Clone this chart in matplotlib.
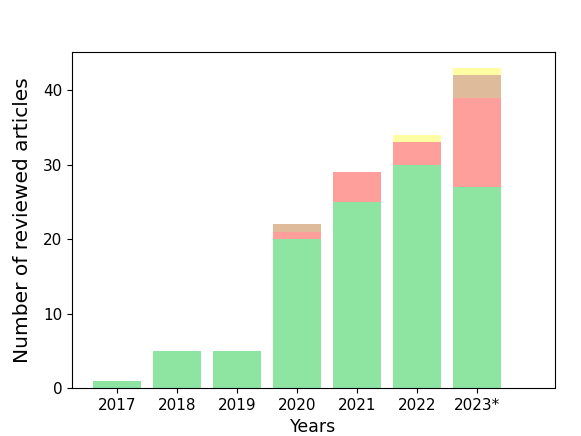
import matplotlib.pyplot as plt
import numpy as np

years = ["2017", "2018", "2019", "2020", "2021", "2022", "2023*"]
green = [1, 5, 5, 20, 25, 30, 27]
red = [0, 0, 0, 1, 4, 3, 12]
tan = [0, 0, 0, 1, 0, 0, 3]
yellow = [0, 0, 0, 0, 0, 1, 1]

colors = ["#8de5a1", "#ff9f9b", "#debb9b", "#fffea3"]

fig, ax = plt.subplots(figsize=(5.81, 4.36), dpi=100)
fig.subplots_adjust(left=0.124, right=0.955, top=0.881, bottom=0.110)

bottom = np.zeros(len(years))
for vals, c in zip([green, red, tan, yellow], colors):
    ax.bar(years, vals, bottom=bottom, color=c)
    bottom += np.array(vals)

ax.set_xlim(-0.75, 7.3)
ax.set_ylabel("Number of reviewed articles", fontsize=14.5, labelpad=8)
ax.set_xlabel("Years", fontsize=12.5)
ax.tick_params(labelsize=11)
ax.set_yticks([0, 10, 20, 30, 40])

plt.savefig("out.png")
